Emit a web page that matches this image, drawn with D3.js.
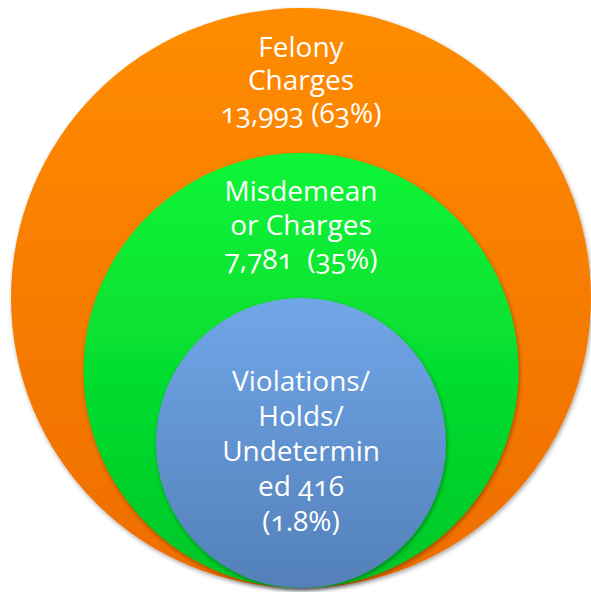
<!DOCTYPE html>
<html>
<head>
<meta charset="utf-8">
<script src="https://cdn.jsdelivr.net/npm/d3@7"></script>
<style>
  html, body { margin: 0; padding: 0; background: #fff; }
</style>
</head>
<body>
<svg id="chart" width="591" height="592"></svg>
<script>
// chart data, outer ring first
const categories = ["Felony Charges", "Misdemeanor Charges", "Violations/Holds/Undetermined"]
const counts = [13993, 7781, 416]
const shares = ["63%", "35%", "1.8%"]
// label lines as they wrap on the slide
const labelLines = [
    ["Felony", "Charges", "13,993 (63%)"],
    ["Misdemean", "or Charges", "7,781  (35%)"],
    ["Violations/", "Holds/", "Undetermin", "ed 416", "(1.8%)"]
]
const topColors = ["#ff8c00", "#0cf537", "#70a6e8"]
const bottomColors = ["#ee6d00", "#00c627", "#5380b8"]

const width = 591, height = 592
const svg = d3.select("#chart")

// nesting level -> circle radius (every level shrinks by the same step)
const radius = d3.scaleLinear().domain([0, categories.length - 1]).range([290, 145])
const cx = 301
const baseY = 588 // all circles touch here

const defs = svg.append("defs")
categories.forEach(function (c, i) {
    const g = defs.append("linearGradient")
        .attr("id", "grad" + i)
        .attr("x1", 0).attr("y1", 0).attr("x2", 0).attr("y2", 1)
    g.append("stop").attr("offset", "0%").attr("stop-color", topColors[i])
    g.append("stop").attr("offset", "100%").attr("stop-color", bottomColors[i])
})
defs.append("filter")
    .attr("id", "shadow")
    .attr("x", "-10%").attr("y", "-10%").attr("width", "120%").attr("height", "120%")
    .append("feDropShadow")
    .attr("dx", 1).attr("dy", 2)
    .attr("stdDeviation", 2)
    .attr("flood-color", "#000")
    .attr("flood-opacity", 0.35)

const rings = svg.selectAll(".ring")
    .data(categories)
    .enter()
    .append("circle")
    .attr("class", "ring")
    .attr("cx", cx)
    .attr("cy", function (d, i) { return baseY - radius(i) })
    .attr("r", function (d, i) { return radius(i) })
    .attr("fill", function (d, i) { return "url(#grad" + i + ")" })
    .attr("filter", "url(#shadow)")

// where the label block sits: between this circle top and the next one,
// or in the middle for the innermost circle
function labelCenter(i) {
    const top = baseY - 2 * radius(i)
    if (i < categories.length - 1) {
        const nextTop = baseY - 2 * radius(i + 1)
        return (top + nextTop) / 2
    }
    return baseY - radius(i) + 8
}

const lineHeight = [33, 34, 35]

const labels = svg.selectAll(".label")
    .data(categories)
    .enter()
    .append("text")
    .attr("class", "label")
    .attr("text-anchor", "middle")
    .style("fill", "#fff")
    .style("font-family", "'Open Sans', sans-serif")
    .style("font-size", "28px")
    .style("font-variant-numeric", "oldstyle-nums")

labels.each(function (d, i) {
    const lines = labelLines[i]
    const n = lines.length
    const y0 = labelCenter(i) - (n - 1) * lineHeight[i] / 2
    d3.select(this).selectAll("tspan")
        .data(lines)
        .enter()
        .append("tspan")
        .attr("x", cx)
        .attr("y", function (l, j) { return y0 + j * lineHeight[i] })
        .attr("dy", "0.35em")
        .style("white-space", "pre")
        .text(function (l) { return l })
})
</script>
</body>
</html>
